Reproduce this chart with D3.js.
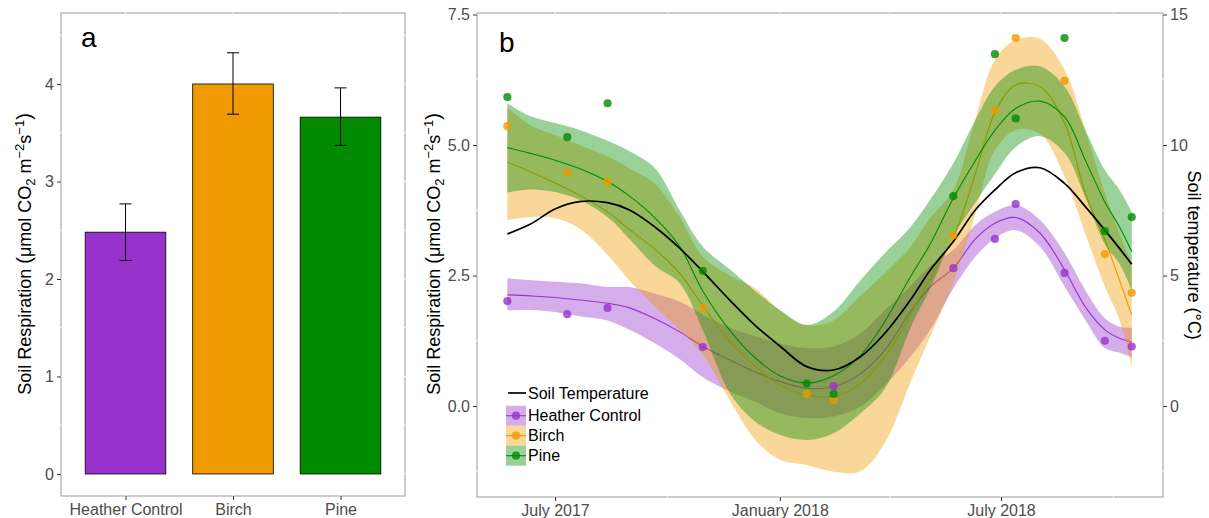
<!DOCTYPE html>
<html>
<head>
<meta charset="utf-8">
<script src="https://cdn.jsdelivr.net/npm/d3@7"></script>
<style>
  body { margin: 0; background: #fff; }
  svg { display: block; font-family: "Liberation Sans", Arial, sans-serif; }
</style>
</head>
<body>
<div id="chart"></div>
<script>
// Panel a: mean soil respiration per treatment, with error bars
const barCategories = ["Heather Control", "Birch", "Pine"];
const barMeans = [2.48, 4.00, 3.66];
const barLower = [2.19, 3.69, 3.37];
const barUpper = [2.77, 4.32, 3.96];

// Panel b: measured points (null = no visible point)
const pointDates = ["2017-05-23", "2017-07-11", "2017-08-13", "2017-10-30", "2018-01-23", "2018-02-14",
                    "2018-05-23", "2018-06-26", "2018-07-13", "2018-08-22", "2018-09-24", "2018-10-16"];
const heatherPoints = [2.01, 1.76, 1.88, 1.13, null, 0.38, 2.64, 3.20, 3.87, 2.55, 1.25, 1.14];
const birchPoints = [5.36, 4.47, 4.29, 1.88, 0.23, 0.11, 3.27, 5.67, 7.05, 6.23, 2.91, 2.17];
const pinePoints = [5.92, 5.15, 5.80, 2.59, 0.43, 0.23, 4.02, 6.74, 5.51, 7.05, 3.35, 3.62];

// Panel b: smoothed fits and confidence bands
const fitDates = ["2017-05-23", "2017-06-11", "2017-07-01", "2017-07-21", "2017-08-13", "2017-08-31", "2017-09-21",
                  "2017-10-11", "2017-10-30", "2017-11-21", "2017-12-12", "2018-01-01", "2018-01-23", "2018-02-14",
                  "2018-03-08", "2018-03-28", "2018-04-18", "2018-05-04", "2018-05-23", "2018-06-10", "2018-06-26",
                  "2018-07-13", "2018-08-02", "2018-08-22", "2018-09-08", "2018-09-24", "2018-10-06", "2018-10-16"];
const heatherFit = [2.13, 2.11, 2.08, 2.03, 1.97, 1.88, 1.67, 1.42, 1.14, 0.88, 0.65, 0.47, 0.34, 0.37,
                    0.62, 1.07, 1.81, 2.28, 2.64, 3.20, 3.50, 3.61, 3.31, 2.61, 1.90, 1.46, 1.30, 1.23];
const heatherHi = [2.45, 2.41, 2.38, 2.35, 2.28, 2.28, 2.15, 2.00, 1.75, 1.50, 1.33, 1.20, 1.11, 1.14,
                   1.39, 1.84, 2.30, 2.68, 2.99, 3.47, 3.72, 3.85, 3.56, 2.93, 2.22, 1.68, 1.52, 1.50];
const heatherLo = [1.83, 1.84, 1.80, 1.72, 1.64, 1.46, 1.20, 0.90, 0.55, 0.28, 0.08, -0.14, -0.23, -0.20,
                   -0.01, 0.40, 0.95, 1.46, 2.25, 2.86, 3.21, 3.37, 3.05, 2.29, 1.65, 1.11, 1.02, 0.94];
const birchFit = [4.67, 4.49, 4.27, 4.04, 3.72, 3.38, 3.00, 2.54, 1.92, 1.24, 0.76, 0.40, 0.21, 0.19,
                  0.43, 0.95, 1.75, 2.45, 3.22, 4.45, 5.62, 6.15, 6.12, 5.42, 4.07, 3.18, 2.41, 1.74];
const birchHi = [5.71, 5.38, 5.19, 5.00, 4.78, 4.55, 4.25, 3.62, 2.86, 2.50, 2.25, 1.83, 1.55, 1.64,
                 2.11, 2.55, 3.05, 3.60, 4.14, 5.50, 6.63, 7.01, 7.03, 6.44, 5.29, 4.08, 3.30, 2.73];
const birchLo = [3.56, 3.62, 3.60, 3.40, 2.90, 2.40, 1.90, 1.46, 0.98, 0.11, -0.65, -1.03, -1.13, -1.26,
                 -1.25, -0.70, 0.46, 1.33, 2.36, 3.67, 4.90, 5.29, 5.21, 4.40, 3.30, 2.29, 1.65, 0.75];
const pineFit = [4.95, 4.84, 4.71, 4.55, 4.30, 4.02, 3.60, 3.06, 2.20, 1.45, 0.92, 0.58, 0.44, 0.58,
                 0.97, 1.62, 2.48, 3.10, 3.98, 4.70, 5.28, 5.70, 5.84, 5.54, 4.71, 3.91, 3.43, 2.96];
const pineHi = [5.80, 5.55, 5.42, 5.29, 5.08, 4.88, 4.55, 3.75, 3.05, 2.62, 2.20, 1.84, 1.55, 1.81,
                2.41, 2.93, 3.43, 3.95, 4.65, 5.48, 6.12, 6.44, 6.51, 6.12, 5.29, 4.52, 4.14, 3.72];
const pineLo = [4.09, 4.15, 4.10, 3.95, 3.62, 3.20, 2.68, 2.35, 1.45, 0.25, -0.30, -0.55, -0.65, -0.52,
                -0.14, 0.33, 1.50, 2.25, 3.25, 3.90, 4.44, 4.96, 5.17, 4.85, 4.00, 3.10, 2.72, 2.22];
// soil temperature in degrees C (right axis)
const tempFit = [6.59, 6.97, 7.55, 7.83, 7.79, 7.51, 6.85, 6.05, 5.15, 4.06, 3.08, 2.30, 1.51, 1.38,
                 1.89, 2.79, 4.07, 5.20, 6.30, 7.51, 8.28, 8.94, 9.13, 8.53, 7.64, 6.74, 6.04, 5.43];

const seriesNames = ["Heather Control", "Birch", "Pine"];
const seriesColors = ["#9932CC", "#EE9A00", "#008B00"];

const barTicks = [0, 1, 2, 3, 4];
const respTicks = [0, 2.5, 5, 7.5];
const tempTicks = [0, 5, 10, 15];
const monthTicks = ["2017-07-01", "2018-01-01", "2018-07-01"];
const monthLabels = ["July 2017", "January 2018", "July 2018"];
const minorMonths = ["2017-10-01", "2018-04-01", "2018-10-01"];

const parseDate = d3.timeParse("%Y-%m-%d");

const W = 1209, H = 518;
const svg = d3.select("#chart").append("svg").attr("width", W).attr("height", H);

const tickColor = "#333333";
const labelColor = "#4D4D4D";
const borderColor = "#999999";

// Axis title with sub/superscripts
function respTitle(x, y) {
  const t = svg.append("text")
      .attr("transform", `translate(${x},${y}) rotate(-90)`)
      .attr("text-anchor", "middle")
      .attr("font-size", 18)
      .attr("fill", "#000");
  t.append("tspan").text("Soil Respiration ");
  t.append("tspan").attr("font-size", 20).text("(");
  t.append("tspan").text("μmol CO");
  t.append("tspan").attr("font-size", 13).attr("dy", 4).text("2");
  t.append("tspan").attr("dy", -4).text(" m");
  t.append("tspan").attr("font-size", 13).attr("dy", -7).text("−2");
  t.append("tspan").attr("dy", 7).text("s");
  t.append("tspan").attr("font-size", 13).attr("dy", -7).text("−1");
  t.append("tspan").attr("dy", 7).attr("font-size", 20).text(")");
}

// ---------------- Panel a ----------------
const pa = { left: 61, right: 405, top: 13, bottom: 496 };

const xA = d3.scalePoint().domain(barCategories).range([pa.left, pa.right]).padding(0.6);
const yA = d3.scaleLinear().domain([-0.226, 4.728]).range([pa.bottom, pa.top]);
const barW = xA.step() * 0.75;

const gA = svg.append("g");
gA.append("rect")
    .attr("x", pa.left).attr("y", pa.top)
    .attr("width", pa.right - pa.left).attr("height", pa.bottom - pa.top)
    .attr("fill", "none").attr("stroke", borderColor);

// faint white grid (only shows where it crosses the border)
gA.selectAll(".gx").data(barCategories).join("line")
    .attr("x1", d => xA(d)).attr("x2", d => xA(d))
    .attr("y1", pa.top - 1).attr("y2", pa.bottom + 1)
    .attr("stroke", "#fff").attr("stroke-width", 0.8);
gA.selectAll(".gy").data(d3.range(0, 4.6, 0.5)).join("line")
    .attr("x1", pa.left - 1).attr("x2", pa.right + 1)
    .attr("y1", d => yA(d)).attr("y2", d => yA(d))
    .attr("stroke", "#fff").attr("stroke-width", 0.8);

const bars = barCategories.map((c, i) => ({ cat: c, mean: barMeans[i], lo: barLower[i], hi: barUpper[i], color: seriesColors[i] }));

gA.selectAll(".bar").data(bars).join("rect")
    .attr("x", d => xA(d.cat) - barW / 2)
    .attr("width", barW)
    .attr("y", d => yA(d.mean))
    .attr("height", d => yA(0) - yA(d.mean))
    .attr("fill", d => d.color)
    .attr("stroke", "#000").attr("stroke-width", 0.8);

const eb = gA.selectAll(".eb").data(bars).join("g").attr("stroke", "#000").attr("stroke-width", 1);
eb.append("line").attr("x1", d => xA(d.cat)).attr("x2", d => xA(d.cat))
    .attr("y1", d => yA(d.lo)).attr("y2", d => yA(d.hi));
eb.append("line").attr("x1", d => xA(d.cat) - 6).attr("x2", d => xA(d.cat) + 6)
    .attr("y1", d => yA(d.hi)).attr("y2", d => yA(d.hi));
eb.append("line").attr("x1", d => xA(d.cat) - 6).attr("x2", d => xA(d.cat) + 6)
    .attr("y1", d => yA(d.lo)).attr("y2", d => yA(d.lo));

// axes for panel a
const axA = gA.append("g").attr("transform", `translate(${pa.left},0)`)
    .call(d3.axisLeft(yA).tickValues(barTicks).tickSize(4).tickPadding(3).tickFormat(d3.format("d")));
const axAb = gA.append("g").attr("transform", `translate(0,${pa.bottom})`)
    .call(d3.axisBottom(xA).tickSize(4).tickPadding(4));
[axA, axAb].forEach(a => {
  a.select(".domain").remove();
  a.selectAll(".tick line").attr("stroke", tickColor);
  a.selectAll(".tick text").attr("fill", labelColor).attr("font-size", 16)
      .attr("font-family", "Liberation Sans, Arial, sans-serif");
});

respTitle(31, 254);

svg.append("text").attr("x", 81).attr("y", 47).attr("font-size", 28).attr("fill", "#000").text("a");

// ---------------- Panel b ----------------
const pb = { left: 477, right: 1163, top: 13, bottom: 497 };

const xB = d3.scaleTime()
    .domain([parseDate("2017-07-01"), parseDate("2018-07-01")])
    .range([555, 1001]);
const yB = d3.scaleLinear().domain([-1.743, 7.529]).range([pb.bottom, pb.top]);
const yT = d3.scaleLinear().domain([-3.486, 15.058]).range([pb.bottom, pb.top]);

const gB = svg.append("g");
gB.append("rect")
    .attr("x", pb.left).attr("y", pb.top)
    .attr("width", pb.right - pb.left).attr("height", pb.bottom - pb.top)
    .attr("fill", "none").attr("stroke", borderColor);

const gridDates = monthTicks.concat(minorMonths).map(parseDate);
gB.selectAll(".gx").data(gridDates).join("line")
    .attr("x1", d => xB(d)).attr("x2", d => xB(d))
    .attr("y1", pb.top - 1).attr("y2", pb.bottom + 1)
    .attr("stroke", "#fff").attr("stroke-width", 0.8);
gB.selectAll(".gy").data(d3.range(-1.25, 7.6, 1.25)).join("line")
    .attr("x1", pb.left - 1).attr("x2", pb.right + 1)
    .attr("y1", d => yB(d)).attr("y2", d => yB(d))
    .attr("stroke", "#fff").attr("stroke-width", 0.8);

svg.append("clipPath").attr("id", "clipB").append("rect")
    .attr("x", pb.left).attr("y", pb.top)
    .attr("width", pb.right - pb.left).attr("height", pb.bottom - pb.top);

const plotB = gB.append("g").attr("clip-path", "url(#clipB)");

const fits = [
  { fit: heatherFit, lo: heatherLo, hi: heatherHi, pts: heatherPoints },
  { fit: birchFit, lo: birchLo, hi: birchHi, pts: birchPoints },
  { fit: pineFit, lo: pineLo, hi: pineHi, pts: pinePoints }
].map((s, i) => ({
  name: seriesNames[i],
  color: seriesColors[i],
  band: fitDates.map((d, j) => ({ date: parseDate(d), fit: s.fit[j], lo: s.lo[j], hi: s.hi[j] })),
  points: pointDates.map((d, j) => ({ date: parseDate(d), v: s.pts[j] })).filter(p => p.v !== null)
}));

const area = d3.area()
    .x(d => xB(d.date))
    .y0(d => yB(d.lo))
    .y1(d => yB(d.hi))
    .curve(d3.curveCatmullRom);

const fitLine = d3.line()
    .x(d => xB(d.date))
    .y(d => yB(d.fit))
    .curve(d3.curveCatmullRom);

// ribbon then line, per series, in legend order
fits.forEach(s => {
  plotB.append("path").datum(s.band)
      .attr("d", area)
      .attr("fill", s.color).attr("fill-opacity", 0.4);
  plotB.append("path").datum(s.band)
      .attr("d", fitLine)
      .attr("fill", "none").attr("stroke", s.color).attr("stroke-width", 1.1);
});

// soil temperature
const tempData = fitDates.map((d, j) => ({ date: parseDate(d), t: tempFit[j] }));
plotB.append("path").datum(tempData)
    .attr("d", d3.line().x(d => xB(d.date)).y(d => yT(d.t)).curve(d3.curveCatmullRom))
    .attr("fill", "none").attr("stroke", "#000").attr("stroke-width", 1.7);

// measured points
fits.forEach(s => {
  plotB.selectAll(null).data(s.points).join("circle")
      .attr("cx", d => xB(d.date)).attr("cy", d => yB(d.v))
      .attr("r", 4.1)
      .attr("fill", s.color).attr("fill-opacity", 0.8);
});

// axes for panel b
const axBl = gB.append("g").attr("transform", `translate(${pb.left},0)`)
    .call(d3.axisLeft(yB).tickValues(respTicks).tickSize(4).tickPadding(3).tickFormat(d3.format(".1f")));
const axBr = gB.append("g").attr("transform", `translate(${pb.right},0)`)
    .call(d3.axisRight(yT).tickValues(tempTicks).tickSize(4).tickPadding(3).tickFormat(d3.format("d")));
const axBb = gB.append("g").attr("transform", `translate(0,${pb.bottom})`)
    .call(d3.axisBottom(xB).tickValues(monthTicks.map(parseDate)).tickSize(4).tickPadding(4)
      .tickFormat((d, i) => monthLabels[i]));
[axBl, axBr, axBb].forEach(a => {
  a.select(".domain").remove();
  a.selectAll(".tick line").attr("stroke", tickColor);
  a.selectAll(".tick text").attr("fill", labelColor).attr("font-size", 16)
      .attr("font-family", "Liberation Sans, Arial, sans-serif");
});

respTitle(440, 254);

svg.append("text")
    .attr("transform", "translate(1188,255) rotate(90)")
    .attr("text-anchor", "middle")
    .attr("font-size", 18)
    .attr("fill", "#000")
    .text("Soil temperature (°C)");

svg.append("text").attr("x", 499).attr("y", 52).attr("font-size", 28).attr("fill", "#000").text("b");

// legend
const legX = 506, legY = 393, keyW = 20, rowH = 20;
const leg = svg.append("g").attr("font-size", 16).attr("fill", "#000");
leg.append("line")
    .attr("x1", legX + 2).attr("x2", legX + keyW).attr("y1", legY).attr("y2", legY)
    .attr("stroke", "#000").attr("stroke-width", 1.7);
leg.append("text").attr("x", legX + keyW + 2).attr("y", legY + 5.5).text("Soil Temperature");

seriesNames.forEach((name, i) => {
  const cy = legY + 22.7 + i * rowH;
  leg.append("rect")
      .attr("x", legX).attr("y", cy - rowH / 2)
      .attr("width", keyW).attr("height", rowH)
      .attr("fill", seriesColors[i]).attr("fill-opacity", 0.4);
  leg.append("line")
      .attr("x1", legX).attr("x2", legX + keyW).attr("y1", cy).attr("y2", cy)
      .attr("stroke", seriesColors[i]).attr("stroke-width", 1.1);
  leg.append("circle")
      .attr("cx", legX + keyW / 2).attr("cy", cy).attr("r", 4.1)
      .attr("fill", seriesColors[i]).attr("fill-opacity", 0.8);
  leg.append("text").attr("x", legX + keyW + 2).attr("y", cy + 5.5).text(name);
});
</script>
</body>
</html>
